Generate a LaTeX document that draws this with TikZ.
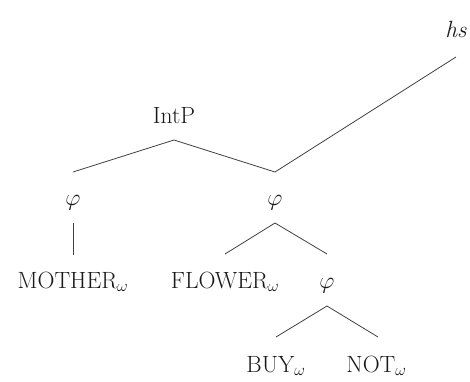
\documentclass[tikz,border=0pt]{standalone}
\usepackage{fix-cm}
\usepackage{fontspec}
\begin{document}
\begin{tikzpicture}[x=1pt,y=1pt,
  lbl/.style={inner sep=0pt, anchor=base, text=black!90, font=\fontsize{23.5}{28}\selectfont},
  edge/.style={line width=0.8pt, draw=black!75}]
\useasboundingbox (0,0) rectangle (470,381);
\node[lbl] (hs) at (456,343) {\textit{hs}};
\node[lbl] (intp) at (174,258) {IntP};
\node[lbl] (phi1) at (73,176) {$\varphi$};
\node[lbl] (phi2) at (275,176) {$\varphi$};
\node[lbl] (mother) at (73,93) {MOTHER$_\omega$};
\node[lbl] (flower) at (225,93) {FLOWER$_\omega$};
\node[lbl] (phi3) at (327,93) {$\varphi$};
\node[lbl] (buy) at (276,9) {BUY$_\omega$};
\node[lbl] (not) at (376.5,9) {NOT$_\omega$};
\draw[edge] ([yshift=-19pt]hs.base) -- ([yshift=33pt]phi2.base);
\draw[edge] ([yshift=33pt]phi1.base) -- ([yshift=-17pt]intp.base) -- ([yshift=33pt]phi2.base);
\draw[edge] ([yshift=-18pt]phi1.base) -- ([yshift=33pt]mother.base);
\draw[edge] ([yshift=34pt]flower.base) -- ([yshift=-18pt]phi2.base) -- ([yshift=34pt]phi3.base);
\draw[edge] ([yshift=35pt]buy.base) -- ([yshift=-18pt]phi3.base) -- ([xshift=1.5pt,yshift=35pt]not.base);
\end{tikzpicture}
\end{document}
